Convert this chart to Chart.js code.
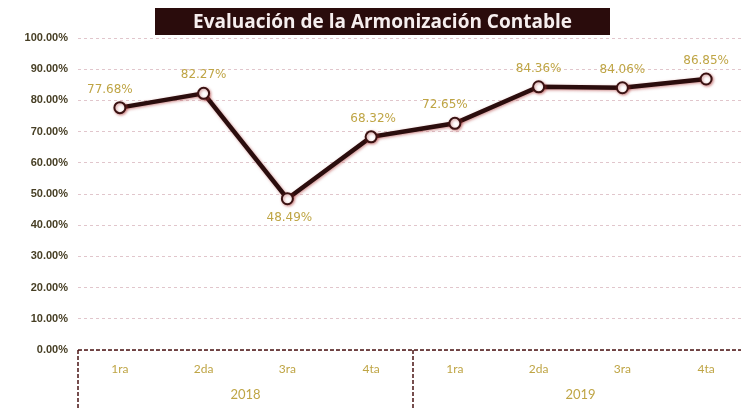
<!DOCTYPE html>
<html>
<head>
<meta charset="utf-8">
<script src="https://cdn.jsdelivr.net/npm/chart.js@4.4.0/dist/chart.umd.min.js"></script>
<style>
html, body { margin: 0; padding: 0; background: #fff; overflow: hidden; }
canvas { display: block; }
</style>
</head>
<body>
<canvas id="chart" width="741" height="408"></canvas>
<script>
var quarters = ['1ra', '2da', '3ra', '4ta', '1ra', '2da', '3ra', '4ta'];
var years = ['2018', '2019'];
var values = [77.68, 82.27, 48.49, 68.32, 72.65, 84.36, 84.06, 86.85];
var chartTitle = 'Evaluación de la Armonización Contable';

var gold = '#bfa545';

// the plot in the picture runs a little past the right edge
var widenArea = {
    id: 'widenArea',
    afterLayout: function (chart) {
        var xs = chart.scales.x;
        var extra = 748 - chart.chartArea.right;
        chart.chartArea.right += extra;
        chart.chartArea.width += extra;
        xs.right += extra;
        xs.width += extra;
        xs.configure();
    }
};

// dark box with white title text
var titleBox = {
    id: 'titleBox',
    afterDraw: function (chart) {
        var ctx = chart.ctx;
        var x0 = 155, x1 = 610, y0 = 8, y1 = 35;
        ctx.save();
        ctx.fillStyle = '#2a0c0c';
        ctx.fillRect(x0, y0, x1 - x0, y1 - y0);
        var size = 19;
        ctx.font = 'bold ' + size + 'px "Open Sans"';
        while (ctx.measureText(chartTitle).width > 432 && size > 10) {
            size -= 0.5;
            ctx.font = 'bold ' + size + 'px "Open Sans"';
        }
        ctx.fillStyle = '#f6eeee';
        ctx.textAlign = 'center';
        ctx.textBaseline = 'middle';
        ctx.fillText(chartTitle, (x0 + x1) / 2, (y0 + y1) / 2 + 1);
        ctx.restore();
    }
};

// dashed box under the axis with the year groups
var yearGroups = {
    id: 'yearGroups',
    afterDraw: function (chart) {
        var ctx = chart.ctx;
        var xs = chart.scales.x;
        var top = chart.chartArea.bottom;
        var bottom = chart.height;
        var per = quarters.length / years.length;
        var edges = [xs.left];
        for (var g = 1; g < years.length; g++) {
            var a = xs.getPixelForValue(g * per - 1);
            var b = xs.getPixelForValue(g * per);
            edges.push((a + b) / 2);
        }
        edges.push(xs.right);
        ctx.save();
        ctx.strokeStyle = '#4a1414';
        ctx.lineWidth = 1.5;
        ctx.setLineDash([4, 2]);
        ctx.beginPath();
        ctx.moveTo(xs.left, top);
        ctx.lineTo(xs.right, top);
        edges.forEach(function (x) {
            ctx.moveTo(x, top);
            ctx.lineTo(x, bottom);
        });
        ctx.stroke();
        ctx.setLineDash([]);
        ctx.fillStyle = gold;
        ctx.font = '13px Lato';
        ctx.textAlign = 'center';
        ctx.textBaseline = 'middle';
        for (var i = 0; i < years.length; i++) {
            ctx.fillText(years[i], (edges[i] + edges[i + 1]) / 2, 395);
        }
        ctx.restore();
    }
};

// value labels next to each point
var valueLabels = {
    id: 'valueLabels',
    afterDatasetsDraw: function (chart) {
        var ctx = chart.ctx;
        var meta = chart.getDatasetMeta(0);
        var shiftX = [-10, 0, 2, 2, -10, 0, 0, 0];
        ctx.save();
        ctx.font = '12px "DejaVu Sans"';
        ctx.fillStyle = gold;
        ctx.textAlign = 'center';
        ctx.textBaseline = 'middle';
        meta.data.forEach(function (pt, i) {
            var v = values[i];
            var prev = i > 0 ? values[i - 1] : v;
            var next = i < values.length - 1 ? values[i + 1] : v;
            var below = v < prev - 5 && v < next - 5;
            var y = below ? pt.y + 19 : pt.y - 18;
            ctx.fillText(v.toFixed(2) + '%', pt.x + shiftX[i], y);
        });
        ctx.restore();
    }
};

var lineShadow = {
    id: 'lineShadow',
    beforeDatasetDraw: function (chart) {
        var ctx = chart.ctx;
        ctx.save();
        ctx.shadowColor = 'rgba(170, 50, 50, 0.55)';
        ctx.shadowBlur = 3;
        ctx.shadowOffsetX = 1;
        ctx.shadowOffsetY = 1;
    },
    afterDatasetDraw: function (chart) {
        chart.ctx.restore();
    }
};

var config = {
    type: 'line',
    data: {
        labels: quarters,
        datasets: [{
            label: 'Evaluación',
            data: values,
            borderColor: '#2b0d0d',
            borderWidth: 4.5,
            pointRadius: 5.5,
            pointBackgroundColor: '#ffffff',
            pointBorderColor: '#3a1212',
            pointBorderWidth: 2,
            tension: 0,
            fill: false,
            clip: false
        }]
    },
    options: {
        responsive: false,
        animation: false,
        devicePixelRatio: 1,
        layout: { padding: { top: 38, left: 0, right: 0, bottom: 0 } },
        plugins: {
            legend: { display: false },
            tooltip: { enabled: false },
            title: { display: false }
        },
        scales: {
            x: {
                offset: true,
                grid: { display: false, drawTicks: false },
                border: { display: false },
                ticks: {
                    color: gold,
                    font: { family: 'Lato', size: 12 },
                    padding: 12,
                    autoSkip: false,
                    maxRotation: 0
                },
                afterFit: function (scale) { scale.height = 58; }
            },
            y: {
                min: 0,
                max: 100,
                grid: {
                    color: 'rgba(205, 160, 170, 0.6)',
                    lineWidth: 1,
                    drawTicks: false
                },
                border: { display: false, dash: [3, 3] },
                ticks: {
                    stepSize: 10,
                    padding: 10,
                    color: '#463e24',
                    font: { family: '"Liberation Sans"', size: 11, weight: 'bold' },
                    callback: function (v) { return v.toFixed(2) + '%'; }
                },
                afterFit: function (scale) { scale.width = 78; }
            }
        }
    },
    plugins: [widenArea, lineShadow, valueLabels, yearGroups, titleBox]
};

window.onload = function () {
    var ctx = document.getElementById('chart').getContext('2d');
    new Chart(ctx, config);
};
</script>
</body>
</html>
